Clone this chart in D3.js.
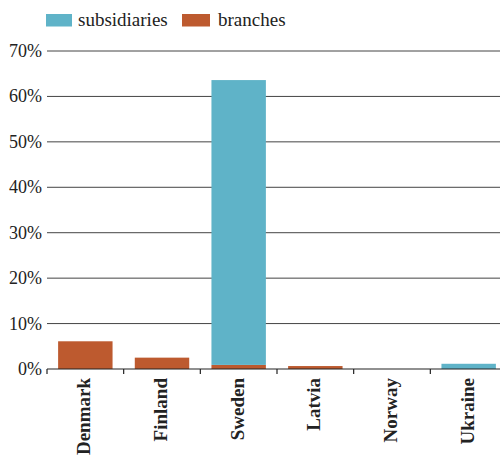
<!DOCTYPE html>
<html><head><meta charset="utf-8">
<script src="https://cdn.jsdelivr.net/npm/d3@7/dist/d3.min.js"></script>
<style>body{margin:0;background:#fff}svg{display:block}</style>
</head><body><svg id="c" width="500" height="456"></svg>
<script>
const categories = ["Denmark","Finland","Sweden","Latvia","Norway","Ukraine"];
const branches = [6.1, 2.5, 0.9, 0.65, 0, 0];
const subsidiaries = [0, 0, 62.7, 0, 0, 1.15];
const seriesNames = ["subsidiaries","branches"];
const colors = {subsidiaries:"#5fb3c8", branches:"#bd5a2f"};
const yTicks = [0,10,20,30,40,50,60,70];

const svg = d3.select("#c");
const font = "'Liberation Serif','DejaVu Serif',serif";
const x = d3.scaleBand().domain(categories).range([47, 507]).paddingInner(0.29).paddingOuter(0.145);
const y = d3.scaleLinear().domain([0,70]).range([369, 51]);

// grid
svg.append("g").selectAll("line").data(yTicks.filter(d=>d>0)).join("line")
  .attr("x1",47).attr("x2",500).attr("y1",d=>y(d)).attr("y2",d=>y(d))
  .attr("stroke","#444").attr("stroke-width",1);
svg.append("g").selectAll("text").data(yTicks).join("text")
  .attr("x",42).attr("y",d=>y(d)).attr("dy","0.33em").attr("text-anchor","end")
  .style("font-family",font).attr("font-size",18).attr("fill","#222")
  .text(d=>d+"%");

const data = categories.map((c,i)=>({cat:c, branches:branches[i], subsidiaries:subsidiaries[i]}));
const stack = d3.stack().keys(["branches","subsidiaries"])(data);
svg.append("g").selectAll("g").data(stack).join("g").attr("fill",d=>colors[d.key])
  .selectAll("rect").data(d=>d).join("rect")
  .attr("x",d=>x(d.data.cat)).attr("width",x.bandwidth())
  .attr("y",d=>y(d[1])).attr("height",d=>Math.max(0,y(d[0])-y(d[1])));

// x axis
const ax = svg.append("g");
ax.append("line").attr("x1",47).attr("x2",500).attr("y1",y(0)).attr("y2",y(0)).attr("stroke","#222").attr("stroke-width",1.2);
ax.selectAll(".tk").data(categories).join("line").attr("class","tk")
  .attr("x1",d=>x(d)-x.step()*x.paddingInner()/2).attr("x2",d=>x(d)-x.step()*x.paddingInner()/2)
  .attr("y1",y(0)).attr("y2",y(0)+5).attr("stroke","#222").attr("stroke-width",1.2);
ax.selectAll(".lb").data(categories).join("text").attr("class","lb")
  .attr("transform",d=>`translate(${x(d)+x.bandwidth()/2+5},378) rotate(-90)`)
  .attr("text-anchor","end").style("font-family",font).attr("font-weight","bold")
  .attr("font-size",19).attr("fill","#222").text(d=>d);

// legend
const lg = svg.append("g");
const lx = [46, 182];
seriesNames.forEach((s,i)=>{
  lg.append("rect").attr("x",lx[i]).attr("y",14).attr("width",i?28:26).attr("height",12.5).attr("fill",colors[s]);
  lg.append("text").attr("x",lx[i]+(i?36:32)).attr("y",26).style("font-family",font).attr("font-size",19)
    .attr("fill","#222").text(s);
});
</script></body></html>
